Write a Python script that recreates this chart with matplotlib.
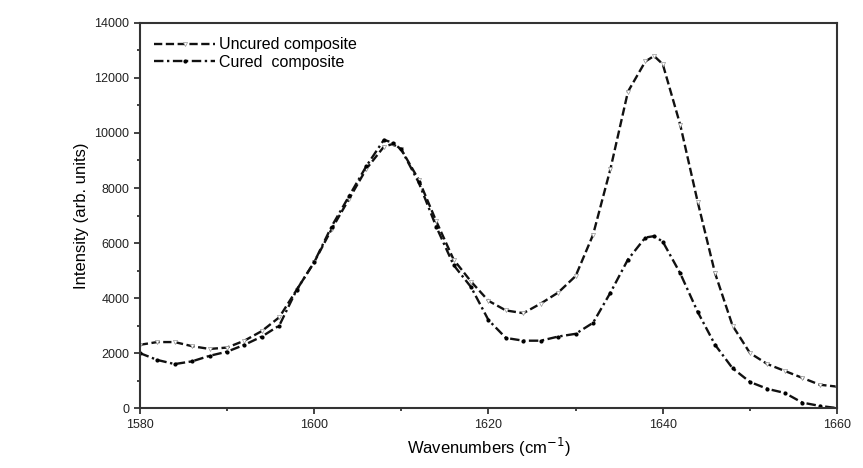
import matplotlib.pyplot as plt
from matplotlib.ticker import MultipleLocator

plt.rcParams['font.family'] = ['Liberation Sans', 'DejaVu Sans']

# wavenumber axis (cm^-1)
wn = [1580, 1582, 1584, 1586, 1588, 1590, 1592, 1594, 1596, 1598,
      1600, 1602, 1604, 1606, 1608, 1609, 1610, 1612, 1614, 1616,
      1618, 1620, 1622, 1624, 1626, 1628, 1630, 1632, 1634, 1636,
      1638, 1639, 1640, 1642, 1644, 1646, 1648, 1650, 1652, 1654,
      1656, 1658, 1660]

uncured = [2300, 2400, 2400, 2250, 2150, 2200, 2450, 2800, 3300, 4300,
           5300, 6500, 7600, 8700, 9500, 9600, 9400, 8300, 6800, 5400,
           4600, 3900, 3550, 3450, 3800, 4200, 4800, 6300, 8700, 11500,
           12600, 12800, 12500, 10300, 7500, 4900, 3000, 2000, 1600, 1350,
           1100, 850, 780]

cured = [2000, 1750, 1600, 1700, 1900, 2050, 2300, 2600, 3000, 4300,
         5300, 6600, 7700, 8800, 9750, 9650, 9400, 8200, 6600, 5200,
         4400, 3200, 2550, 2450, 2450, 2600, 2700, 3100, 4200, 5400,
         6200, 6250, 6050, 4900, 3500, 2300, 1450, 950, 700, 550,
         200, 80, 0]

fig = plt.figure(figsize=(8.63, 4.68), dpi=100)
ax = fig.add_axes([0.162, 0.128, 0.808, 0.823])

ax.plot(wn, uncured, color='#111111', lw=1.7, ls=(0, (3.5, 1.5)),
        marker='v', ms=3.0, mfc='white', mec='#999999', mew=0.5,
        label='Uncured composite')
ax.plot(wn, cured, color='#111111', lw=1.7, ls=(0, (4, 1.5, 1, 1.5)),
        marker='o', ms=2.0, mfc='black', mec='black',
        label='Cured  composite')

ax.set_xlim(1580, 1660)
ax.set_ylim(0, 14000)
ax.xaxis.set_major_locator(MultipleLocator(20))
ax.xaxis.set_minor_locator(MultipleLocator(10))
ax.yaxis.set_major_locator(MultipleLocator(2000))
ax.yaxis.set_minor_locator(MultipleLocator(1000))
ax.tick_params(which='both', direction='out', labelsize=9, width=1.2,
               colors='#222222')
ax.tick_params(which='major', length=4)
ax.tick_params(which='minor', length=2.5)
for s in ax.spines.values():
    s.set_linewidth(1.5)
    s.set_color('#333333')

ax.set_xlabel('Wavenumbers (cm$^{-1}$)', fontsize=12)
ax.set_ylabel('Intensity (arb. units)', fontsize=12)

ax.legend(loc='upper left', frameon=False, fontsize=11.5,
          handlelength=3.8, handletextpad=0.25, borderaxespad=0.5,
          labelspacing=0.15)

fig.savefig('out.png', dpi=100)
